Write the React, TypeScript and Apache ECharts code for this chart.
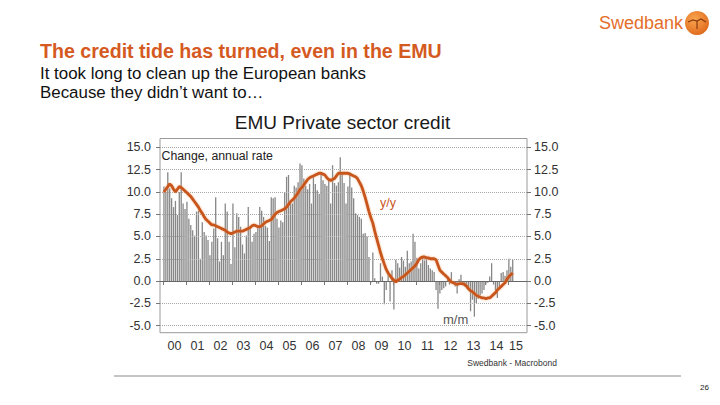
import React, { useEffect, useRef } from 'react';
import * as echarts from 'echarts';

// Year tick labels (x axis)
const yearLabels = ['00', '01', '02', '03', '04', '05', '06', '07', '08', '09', '10', '11', '12', '13', '14', '15'];
const yearTicks = [2000, 2001, 2002, 2003, 2004, 2005, 2006, 2007, 2008, 2009, 2010, 2011, 2012, 2013, 2014, 2015];
const yTickValues = [-5, -2.5, 0, 2.5, 5, 7.5, 10, 12.5, 15];
const gridLineValues = [-5, -2.5, 2.5, 5, 7.5, 10, 12.5, 15];

// y/y growth, monthly from Jan 2000
const yoyRate = [
  10.0, 10.3, 10.6, 10.9, 10.7, 10.3, 10.0, 10.3, 10.6, 10.5, 10.3, 10.1,
  9.9, 9.7, 9.5, 9.2, 8.9, 8.6, 8.3, 7.9, 7.6, 7.2, 6.9, 6.7,
  6.5, 6.3, 6.3, 6.2, 6.1, 6.0, 5.9, 5.8, 5.7, 5.5, 5.4, 5.3,
  5.4, 5.5, 5.6, 5.6, 5.6, 5.6, 5.7, 5.8, 5.9, 6.0, 6.2, 6.3,
  6.2, 6.1, 6.1, 6.2, 6.4, 6.6, 6.7, 6.8, 6.9, 7.2, 7.5, 7.7,
  7.8, 7.9, 8.0, 8.1, 8.3, 8.6, 8.9, 9.1, 9.3, 9.6, 9.9, 10.3,
  10.5, 10.8, 11.1, 11.4, 11.6, 11.7, 11.8, 11.9, 12.0, 12.1, 12.1, 12.0,
  11.9, 11.6, 11.4, 11.3, 11.4, 11.5, 11.8, 12.1, 12.1, 12.1, 12.1, 12.1,
  12.1, 12.0, 11.9, 11.8, 11.7, 11.5, 11.1, 10.7, 10.1, 9.4, 8.6, 7.8,
  7.1, 6.5, 5.6, 4.8, 4.0, 3.2, 2.5, 1.9, 1.3, 0.9, 0.6, 0.3,
  0.1, -0.1, 0.1, 0.2, 0.4, 0.5, 0.7, 0.9, 1.1, 1.3, 1.5, 1.7,
  2.0, 2.4, 2.6, 2.7, 2.7, 2.6, 2.6, 2.5, 2.5, 2.5, 2.4, 1.8,
  1.2, 1.0, 0.8, 0.6, 0.4, 0.1, -0.1, -0.2, -0.3, -0.4, -0.3, -0.3,
  -0.3, -0.4, -0.6, -0.9, -1.1, -1.2, -1.4, -1.6, -1.7, -1.8, -1.9, -1.9,
  -2.0, -1.9, -1.9, -1.7, -1.5, -1.3, -1.0, -0.8, -0.6, -0.4, -0.2, 0.2,
  0.5, 0.7, 0.9,
];

// m/m growth (annual rate), monthly from Jan 2000
const momRate = [
  10.6, 10.0, 12.2, 10.4, 9.3, 8.3, 9.0, 7.4, 10.0, 12.2, 8.7, 8.1,
  8.9, 7.0, 6.3, 5.7, 5.1, 7.8, 7.9, 2.5, 6.6, 5.5, 5.1, 4.6,
  2.9, 4.4, 5.9, 9.4, 4.8, 2.2, 4.4, 2.9, 8.7, 7.8, 4.4, 1.9,
  8.7, 3.8, 7.6, 7.2, 6.1, 4.1, 3.1, 5.1, 8.3, 5.9, 4.4, 5.3,
  5.5, 6.1, 8.3, 7.9, 7.2, 6.2, 6.0, 4.5, 9.4, 9.3, 9.4, 7.0,
  6.0, 6.8, 6.6, 10.0, 11.7, 11.9, 8.9, 8.7, 10.7, 10.5, 11.1, 13.2,
  13.0, 11.5, 10.7, 10.3, 10.9, 8.7, 11.9, 10.9, 10.2, 9.8, 12.2, 11.3,
  10.9, 10.7, 11.3, 8.7, 13.0, 11.0, 10.7, 11.1, 13.9, 12.1, 11.0, 8.7,
  10.6, 12.2, 10.5, 9.3, 7.6, 7.4, 7.2, 7.0, 5.3, 5.4, 5.0, 2.7,
  -0.2, 3.2, 0.3, -0.3, -0.3, 2.0, 0.5, -2.6, -1.0, 0.8, -2.3, 1.2,
  -3.2, 2.4, 2.0, 1.5, 2.7, 2.3, 1.6, 3.4, 2.0, 2.2, 5.3, 4.4,
  2.6, 1.4, 2.0, 2.8, 2.3, 2.6, 1.8, 1.4, 1.2, 1.0, -1.0, -3.1,
  -1.4, -1.0, -0.8, -0.6, 0.2, -0.4, 1.0, -0.3, -0.6, -1.4, 0.2, 0.7,
  -0.5, -0.6, -0.8, -1.0, -3.4, -2.1, -4.0, -2.5, -2.0, -1.6, -1.4, -1.0,
  -0.4, -0.2, 0.5, 2.0, -0.4, -1.0, -1.9, -0.6, 0.9, 1.0, 0.6, 1.2,
  2.5, 1.6, 2.4,
];

const FONT = '"Liberation Sans", Arial, sans-serif';
const ORANGE = '#d55a1f';
const LINE_ORANGE = '#c8561c';

const monthX = (i: number) => 2000 + (i + 0.5) / 12;

export default function App() {
  const ref = useRef<HTMLDivElement>(null);

  useEffect(() => {
    document.body.style.margin = '0';
    if (!ref.current) return;
    const chart = echarts.init(ref.current, null, { renderer: 'svg' });

    const labelPositions = yearTicks.map((y, k) => (k === yearTicks.length - 1 ? y + 0.35 : y + 0.5));

    const option: any = {
      animation: false,
      backgroundColor: '#ffffff',
      grid: {
        left: 160,
        right: 193,
        top: 138.5,
        bottom: 72.3,
        show: true,
        borderColor: '#9a9a9a',
        borderWidth: 1,
        containLabel: false,
      },
      xAxis: {
        type: 'value',
        min: 1999.87,
        max: 2015.83,
        axisLine: { show: false },
        splitLine: { show: false },
        axisTick: {
          show: true,
          customValues: yearTicks,
          length: 4,
          lineStyle: { color: '#777' },
        },
        axisLabel: {
          customValues: labelPositions,
          formatter: (v: number) => yearLabels[Math.floor(v) - 2000],
          fontFamily: FONT,
          fontSize: 12.5,
          color: '#333',
          margin: 7,
        },
      },
      yAxis: [
        {
          type: 'value',
          position: 'left',
          min: -5.8,
          max: 16,
          axisLine: { show: false },
          splitLine: { show: false },
          axisTick: { show: true, customValues: yTickValues, length: 4, lineStyle: { color: '#777' } },
          axisLabel: {
            customValues: yTickValues,
            formatter: (v: number) => v.toFixed(1),
            fontFamily: FONT,
            fontSize: 12.5,
            color: '#333',
            margin: 9,
          },
        },
        {
          type: 'value',
          position: 'right',
          min: -5.8,
          max: 16,
          axisLine: { show: false },
          splitLine: { show: false },
          axisTick: { show: true, customValues: yTickValues, length: 4, lineStyle: { color: '#777' } },
          axisLabel: {
            customValues: yTickValues,
            formatter: (v: number) => v.toFixed(1),
            fontFamily: FONT,
            fontSize: 12.5,
            color: '#333',
            margin: 7,
          },
        },
      ],
      series: [
        {
          name: 'm/m',
          type: 'bar',
          xAxisIndex: 0,
          yAxisIndex: 0,
          barWidth: 1.3,
          data: momRate.map((v, i) => [monthX(i), v]),
          itemStyle: { color: '#878787' },
          z: 2,
          markLine: {
            silent: true,
            symbol: ['none', 'none'],
            label: { show: false },
            lineStyle: { type: 'dotted', color: '#a8a8a8', width: 1 },
            data: [
              ...gridLineValues.map((v) => ({ yAxis: v })),
              { yAxis: 0, lineStyle: { type: 'solid', color: '#666', width: 1 } },
            ],
          },
        },
        {
          name: 'y/y',
          type: 'line',
          xAxisIndex: 0,
          yAxisIndex: 0,
          showSymbol: false,
          data: yoyRate.map((v, i) => [monthX(i), v]),
          lineStyle: {
            color: LINE_ORANGE,
            width: 2.8,
            shadowColor: 'rgba(235,150,90,0.7)',
            shadowBlur: 2,
          },
          z: 5,
        },
      ],
      graphic: [
        {
          type: 'text',
          x: 40,
          y: 51,
          style: {
            text: 'The credit tide has turned, even in the EMU',
            font: `bold 19.6px ${FONT}`,
            fill: ORANGE,
            align: 'left',
            verticalAlign: 'middle',
          },
        },
        {
          type: 'text',
          x: 40,
          y: 73.5,
          style: {
            text: 'It took long to clean up the European banks',
            font: `16.9px ${FONT}`,
            fill: '#111',
            align: 'left',
            verticalAlign: 'middle',
          },
        },
        {
          type: 'text',
          x: 40,
          y: 92,
          style: {
            text: 'Because they didn’t want to…',
            font: `16.9px ${FONT}`,
            fill: '#111',
            align: 'left',
            verticalAlign: 'middle',
          },
        },
        {
          type: 'text',
          x: 683,
          y: 23,
          style: {
            text: 'Swedbank',
            font: `18px ${FONT}`,
            fill: '#e46e2a',
            align: 'right',
            verticalAlign: 'middle',
          },
        },
        {
          type: 'circle',
          shape: { cx: 697, cy: 23, r: 12 },
          style: {
            fill: new echarts.graphic.RadialGradient(0.4, 0.35, 0.75, [
              { offset: 0, color: '#f9a650' },
              { offset: 1, color: '#dd6418' },
            ]),
          },
        },
        {
          type: 'polyline',
          shape: { points: [[688, 22], [693, 20], [697, 21], [701, 19], [706, 22]] },
          style: { stroke: '#8a3a10', lineWidth: 1.2, fill: 'none' },
        },
        {
          type: 'line',
          shape: { x1: 697, y1: 21, x2: 697, y2: 29 },
          style: { stroke: '#8a3a10', lineWidth: 1.2 },
        },
        {
          type: 'text',
          x: 342.5,
          y: 122.5,
          style: {
            text: 'EMU Private sector credit',
            font: `19px ${FONT}`,
            fill: '#1a1a1a',
            align: 'center',
            verticalAlign: 'middle',
          },
        },
        {
          type: 'text',
          x: 161.5,
          y: 155.5,
          style: {
            text: 'Change, annual rate',
            font: `12.3px ${FONT}`,
            fill: '#222',
            align: 'left',
            verticalAlign: 'middle',
          },
        },
        {
          type: 'text',
          x: 380,
          y: 203,
          style: {
            text: 'y/y',
            font: `12.5px ${FONT}`,
            fill: LINE_ORANGE,
            align: 'left',
            verticalAlign: 'middle',
          },
        },
        {
          type: 'text',
          x: 443,
          y: 319,
          style: {
            text: 'm/m',
            font: `13px ${FONT}`,
            fill: '#555',
            align: 'left',
            verticalAlign: 'middle',
          },
        },
        {
          type: 'text',
          x: 557,
          y: 363,
          style: {
            text: 'Swedbank - Macrobond',
            font: `8.5px ${FONT}`,
            fill: '#333',
            align: 'right',
            verticalAlign: 'middle',
          },
        },
        {
          type: 'line',
          shape: { x1: 114, y1: 376, x2: 681, y2: 376 },
          style: { stroke: '#8a8a8a', lineWidth: 1 },
        },
        {
          type: 'text',
          x: 709,
          y: 387,
          style: {
            text: '26',
            font: `8px ${FONT}`,
            fill: '#222',
            align: 'right',
            verticalAlign: 'middle',
          },
        },
      ],
    };

    chart.setOption(option);
    return () => {
      chart.dispose();
    };
  }, []);

  return <div ref={ref} style={{ width: 720, height: 405 }} />;
}
